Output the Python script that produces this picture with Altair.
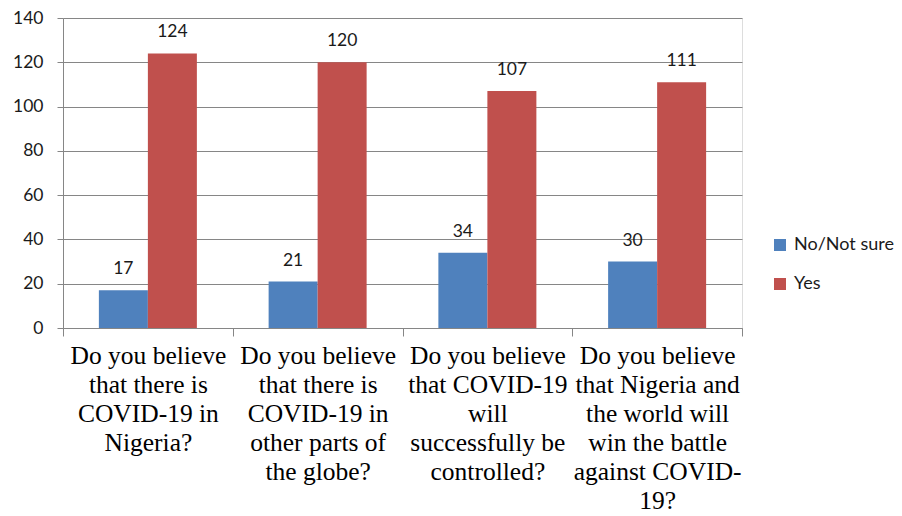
import altair as alt
import pandas as pd

categories = [
    "Do you believe|that there is|COVID-19 in|Nigeria?",
    "Do you believe|that there is|COVID-19 in|other parts of|the globe?",
    "Do you believe|that COVID-19|will|successfully be|controlled?",
    "Do you believe|that Nigeria and|the world will|win the battle|against COVID-|19?",
]
series = ["No/Not sure", "Yes"]
no_values = [17, 21, 34, 30]
yes_values = [124, 120, 107, 111]
colors = ["#4F81BD", "#C0504D"]

rows = []
for c, n, y in zip(categories, no_values, yes_values):
    rows.append({"cat": c, "series": series[0], "value": n})
    rows.append({"cat": c, "series": series[1], "value": y})
df = pd.DataFrame(rows)

x = alt.X(
    "cat:N",
    sort=categories,
    scale=alt.Scale(paddingInner=0, paddingOuter=0),
    axis=alt.Axis(
        title=None,
        labelAngle=0,
        labelExpr="split(datum.label, '|')",
        labelFont="Liberation Serif",
        labelFontSize=25.5,
        labelLineHeight=29,
        labelColor="#000000",
        labelLimit=0,
        labelPadding=7,
        tickBand="extent",
        tickSize=8,
        tickColor="#868686",
        domainColor="#868686",
        labelBaseline="top",
    ),
)
xoff = alt.XOffset(
    "series:N",
    sort=series,
    scale=alt.Scale(paddingInner=0, paddingOuter=0.732),
)
y = alt.Y(
    "value:Q",
    scale=alt.Scale(domain=[0, 140], nice=False),
    axis=alt.Axis(
        title=None,
        values=[0, 20, 40, 60, 80, 100, 120, 140],
        grid=True,
        gridColor="#868686",
        domainColor="#868686",
        tickColor="#868686",
        tickSize=6,
        labelFont="Lato",
        labelFontSize=17.5,
        labelColor="#1a1a1a",
        labelPadding=14,
    ),
)

color = alt.Color(
    "series:N",
    sort=series,
    scale=alt.Scale(domain=series, range=colors),
    legend=alt.Legend(
        title=None,
        orient="none",
        legendX=708,
        legendY=218,
        symbolType="square",
        symbolSize=144,
        symbolStrokeWidth=0,
        labelFont="Lato",
        labelFontSize=18,
        labelColor="#1a1a1a",
        rowPadding=21,
        labelOffset=5,
    ),
)

bars = alt.Chart(df).mark_bar(size=49).encode(x=x, xOffset=xoff, y=y, color=color)
labels = alt.Chart(df).mark_text(
    font="Lato", fontSize=17.5, color="#1a1a1a", baseline="middle", dy=-21
).encode(x=x, xOffset=xoff, y=y, text="value:Q")

chart = (
    alt.layer(bars, labels)
    .properties(
        width=679,
        height=310,
        autosize=alt.AutoSizeParams(type="none"),
        padding={"left": 63, "top": 18, "right": 160, "bottom": 188},
    )
    .configure_view(stroke=None)
    .configure(background="white")
)

chart.save("out.html", embed_options={"renderer": "svg", "actions": False})
